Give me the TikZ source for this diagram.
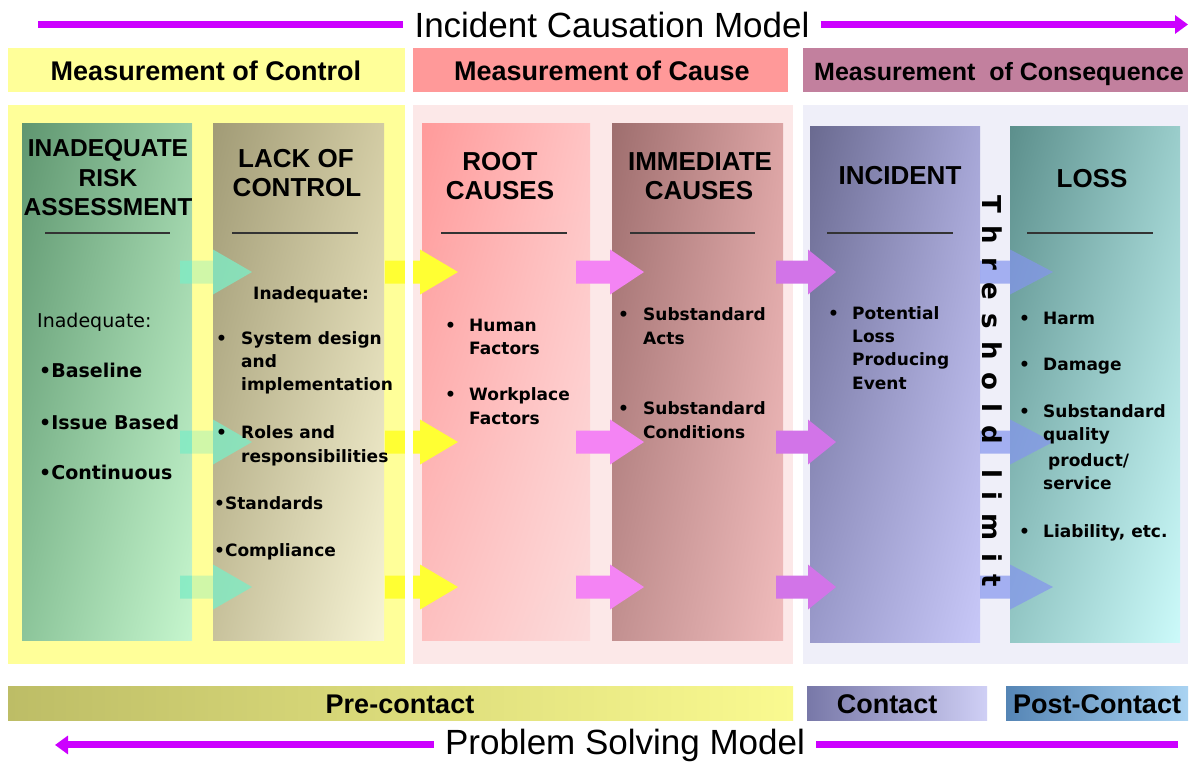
\documentclass[tikz,border=0pt]{standalone}
\usepackage{fontspec}
\setmainfont{Liberation Sans}
\newfontfamily\dvsans{DejaVu Sans}
\usetikzlibrary{arrows.meta,shadings}

% palette
\definecolor{violetline}{HTML}{CC00FF}
\definecolor{hdrY}{HTML}{FFFF99}
\definecolor{hdrP}{HTML}{FF9999}
\definecolor{hdrM}{HTML}{C2809E}
\definecolor{panY}{HTML}{FFFF99}
\definecolor{panP}{HTML}{FCE8E8}
\definecolor{panL}{HTML}{EFEFF9}
\definecolor{arrG}{HTML}{7FEBC4}
\definecolor{arrY}{HTML}{FFFF33}
\definecolor{arrP}{HTML}{F484F4}
\definecolor{arrV}{HTML}{D274E8}
\definecolor{arrB}{HTML}{8494EE}

\tikzset{
  maintitle/.style={font=\fontsize{35}{40}\selectfont, anchor=base, inner xsep=11pt, inner ysep=0pt},
  bandtext/.style={font=\bfseries\fontsize{27}{30}\selectfont, anchor=base, inner sep=0pt},
  colhead/.style={font=\bfseries\fontsize{26}{30}\selectfont, anchor=base, inner sep=0pt},
  itemtext/.style={font=\dvsans\bfseries\fontsize{17}{23}\selectfont, anchor=base west, inner sep=0pt},
  bigitem/.style={font=\dvsans\bfseries\fontsize{19}{23}\selectfont, anchor=base west, inner sep=0pt},
  hrule/.style={line width=1.4pt, draw=black!80},
  pline/.style={line width=7pt, draw=violetline},
  phead/.style={-{Triangle[length=13pt,width=18pt]}},
}

% block arrow: x0, centre y, fill style, body length, tip distance
\newcommand\blockarrow[5]{%
  \begin{scope}[shift={(#1,#2)}]
    \fill[#3] (0,-11.5) -- (#4,-11.5) -- (#4,-22.5) -- (#5,0) -- (#4,22.5) -- (#4,11.5) -- (0,11.5) -- cycle;
  \end{scope}}

\begin{document}
\begin{tikzpicture}[x=1pt,y=-1pt]
\useasboundingbox (0,0) rectangle (1190,763);
\fill[white] (0,0) rectangle (1190,763);

% ---- top title with arrow
\node[maintitle] (cm) at (612,37) {Incident Causation Model};
\coordinate (tlA) at (38,0);
\coordinate (trB) at (1188,0);
\draw[pline] (cm.west -| tlA) -- (cm.west);
\draw[pline,phead] (cm.east) -- (cm.east -| trB);

% ---- measurement bands
\fill[hdrY] (8,48) rectangle (405,92);
\fill[hdrP] (413,48) rectangle (788,92);
\fill[hdrM] (803,48) rectangle (1188,92);
\node[bandtext] (mctl) at (206,80) {Measurement of Control};
\node[bandtext] (mcause) at (602,80) {Measurement of Cause};
\node[bandtext, font=\bfseries\fontsize{25}{30}\selectfont] (mcons) at (999,80) {Measurement\ \ of Consequence};

% ---- panels
\fill[panY] (8,105) rectangle (405,664);
\fill[panP] (413,105) rectangle (793,664);
\fill[panL] (803,105) rectangle (1188,664);

% ---- columns
\shade[upper left={rgb,255:red,95;green,150;blue,112}, upper right={rgb,255:red,154;green,207;blue,166},
       lower left={rgb,255:red,140;green,197;blue,154}, lower right={rgb,255:red,198;green,246;blue,206}]
  (22,123) rectangle (192,640);
\shade[upper left={rgb,255:red,161;green,155;blue,118}, upper right={rgb,255:red,210;green,203;blue,163},
       lower left={rgb,255:red,200;green,194;blue,156}, lower right={rgb,255:red,247;green,244;blue,214}]
  (213,123) rectangle (384,640);
\shade[upper left={rgb,255:red,255;green,154;blue,154}, upper right={rgb,255:red,255;green,196;blue,196},
       lower left={rgb,255:red,253;green,192;blue,192}, lower right={rgb,255:red,252;green,220;blue,220}]
  (422,123) rectangle (590,640);
\shade[upper left={rgb,255:red,158;green,110;blue,110}, upper right={rgb,255:red,220;green,164;blue,164},
       lower left={rgb,255:red,194;green,144;blue,144}, lower right={rgb,255:red,240;green,188;blue,188}]
  (612,123) rectangle (783,640);
\shade[upper left={rgb,255:red,106;green,106;blue,144}, upper right={rgb,255:red,166;green,166;blue,214},
       lower left={rgb,255:red,154;green,154;blue,203}, lower right={rgb,255:red,200;green,200;blue,248}]
  (810,126) rectangle (980,642);
\shade[upper left={rgb,255:red,92;green,143;blue,140}, upper right={rgb,255:red,154;green,205;blue,203},
       lower left={rgb,255:red,148;green,200;blue,198}, lower right={rgb,255:red,204;green,250;blue,250}]
  (1010,126) rectangle (1180,642);

% ---- column headings
\node[colhead, font=\bfseries\fontsize{24.5}{30}\selectfont] (h1a) at (108,156) {INADEQUATE};
\node[colhead, font=\bfseries\fontsize{24.5}{30}\selectfont] (h1b) at (108,186) {RISK};
\node[colhead, font=\bfseries\fontsize{24.5}{30}\selectfont] (h1c) at (108,215) {ASSESSMENT};
\node[colhead] (h2a) at (296,167) {LACK OF};
\node[colhead] (h2b) at (297,196) {CONTROL};
\node[colhead] (h3a) at (500,170) {ROOT};
\node[colhead] (h3b) at (500,199) {CAUSES};
\node[colhead] (h4a) at (700,170) {IMMEDIATE};
\node[colhead] (h4b) at (699,199) {CAUSES};
\node[colhead] (h5a) at (900,184) {INCIDENT};
\node[colhead] (h6a) at (1092,187) {LOSS};

% rules under the headings
\coordinate (r1a) at (45,233);   \coordinate (r1b) at (170,233);
\coordinate (r2a) at (232,233);  \coordinate (r2b) at (358,233);
\coordinate (r3a) at (441,233);  \coordinate (r3b) at (567,233);
\coordinate (r4a) at (630,233);  \coordinate (r4b) at (755,233);
\coordinate (r5a) at (827,233);  \coordinate (r5b) at (953,233);
\coordinate (r6a) at (1027,233); \coordinate (r6b) at (1153,233);
\foreach \k in {1,...,6} \draw[hrule] (r\k a) -- (r\k b);

% ---- block arrows between the columns
\foreach \yc in {272,442,587} {
  \blockarrow{180}{\yc}{arrG, opacity=0.8}{33}{72}
  \blockarrow{385}{\yc}{arrY}{35}{73}
  \blockarrow{576}{\yc}{arrP}{34}{68}
  \blockarrow{776}{\yc}{arrV}{32}{60}
  \blockarrow{980}{\yc}{arrB, opacity=0.7}{30}{73}
}
% gaps that lie over the arrow shafts
\fill[panY, opacity=0.55] (192,105) rectangle (213,664);
\fill[white] (405,100) rectangle (413,664);

% ---- column 1 text
\node[bigitem, font=\dvsans\fontsize{19}{23}\selectfont] (c1i) at (37,327) {Inadequate:};
\node[bigitem] (c1a) at (39,377) {•Baseline};
\node[bigitem] (c1b) at (39,429) {•Issue Based};
\node[bigitem] (c1c) at (39,479) {•Continuous};

% ---- column 2 text
\node[itemtext] (c2i) at (253,299) {Inadequate:};
\node[itemtext] (c2d1) at (216,344) {•};
\node[itemtext] (c2a1) at (241,344) {System design};
\node[itemtext] (c2a2) at (241,367) {and};
\node[itemtext] (c2a3) at (241,390) {implementation};
\node[itemtext] (c2d2) at (216,438) {•};
\node[itemtext] (c2b1) at (241,438) {Roles and};
\node[itemtext] (c2b2) at (241,462) {responsibilities};
\node[itemtext] (c2c) at (214,509) {•Standards};
\node[itemtext] (c2e) at (214,556) {•Compliance};

% ---- column 3 text
\node[itemtext] (c3d1) at (445,331) {•};
\node[itemtext] (c3a1) at (469,331) {Human};
\node[itemtext] (c3a2) at (469,354) {Factors};
\node[itemtext] (c3d2) at (445,400) {•};
\node[itemtext] (c3b1) at (469,400) {Workplace};
\node[itemtext] (c3b2) at (469,424) {Factors};

% ---- column 4 text
\node[itemtext] (c4d1) at (618,320) {•};
\node[itemtext] (c4a1) at (643,320) {Substandard};
\node[itemtext] (c4a2) at (643,344) {Acts};
\node[itemtext] (c4d2) at (618,414) {•};
\node[itemtext] (c4b1) at (643,414) {Substandard};
\node[itemtext] (c4b2) at (643,438) {Conditions};

% ---- column 5 text
\node[itemtext] (c5d1) at (828,319) {•};
\node[itemtext] (c5a1) at (852,319) {Potential};
\node[itemtext] (c5a2) at (852,342) {Loss};
\node[itemtext] (c5a3) at (852,365) {Producing};
\node[itemtext] (c5a4) at (852,389) {Event};

% ---- column 6 text
\node[itemtext] (c6d1) at (1019,324) {•};
\node[itemtext] (c6a) at (1043,324) {Harm};
\node[itemtext] (c6d2) at (1019,370) {•};
\node[itemtext] (c6b) at (1043,370) {Damage};
\node[itemtext] (c6d3) at (1019,417) {•};
\node[itemtext] (c6c1) at (1043,417) {Substandard};
\node[itemtext] (c6c2) at (1043,440) {quality};
\node[itemtext] (c6c3) at (1048,466) {product/};
\node[itemtext] (c6c4) at (1043,489) {service};
\node[itemtext] (c6d4) at (1019,537) {•};
\node[itemtext] (c6e) at (1043,537) {Liability, etc.};

% ---- vertical threshold label
\node[rotate=-90, anchor=base west, inner sep=0pt, font=\dvsans\bfseries\fontsize{26}{30}\selectfont] (thr) at (982,195)
  {\hbox to 392pt{T\hfill h\hfill r\hfill e\hfill s\hfill h\hfill o\hfill l\hfill d\hfill\hfill l\hfill i\hfill m\hfill i\hfill t}};

% ---- contact phase bars
\shade[left color={rgb,255:red,189;green,189;blue,102}, right color={rgb,255:red,250;green,250;blue,144}]
  (8,686) rectangle (793,720);
\shade[left color={rgb,255:red,120;green,120;blue,168}, right color={rgb,255:red,207;green,207;blue,245}]
  (807,686) rectangle (987,720);
\shade[left color={rgb,255:red,85;green,133;blue,181}, right color={rgb,255:red,169;green,211;blue,242}]
  (1006,686) rectangle (1188,720);
\node[bandtext] (pre) at (400,713) {Pre-contact};
\node[bandtext] (con) at (887,713) {Contact};
\node[bandtext] (post) at (1097,713) {Post-Contact};

% ---- bottom title with arrow
\node[maintitle] (psm) at (625,754) {Problem Solving Model};
\coordinate (blA) at (55,0);
\coordinate (brB) at (1178,0);
\draw[pline,phead] (psm.west) -- (psm.west -| blA);
\draw[pline] (psm.east) -- (psm.east -| brB);
\end{tikzpicture}
\end{document}
